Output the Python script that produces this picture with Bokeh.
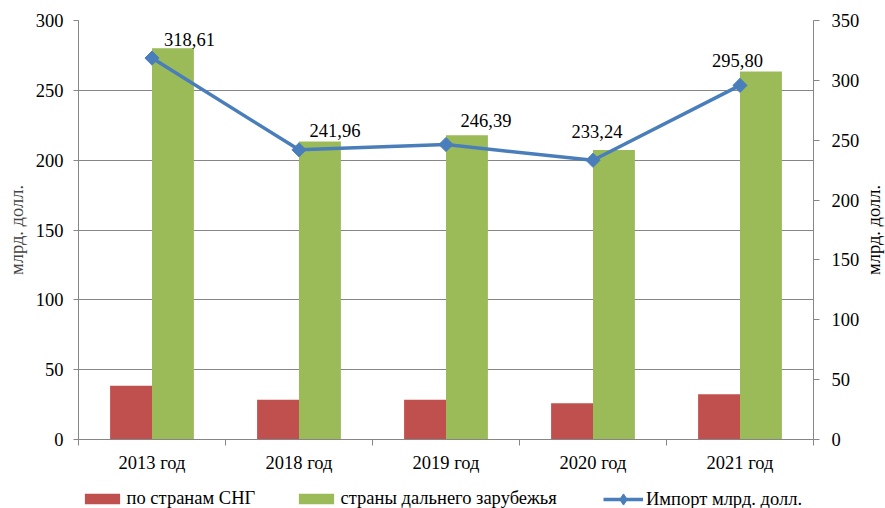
import numpy as np
from bokeh.plotting import figure
from bokeh.layouts import column, row
from bokeh.models import (ColumnDataSource, Range1d, LinearAxis, FixedTicker,
                          Legend, LegendItem, LabelSet, Label)
from bokeh.transform import dodge
from bokeh.embed import file_html
from bokeh.resources import INLINE

# ---- data ----
categories = ["2013 год", "2018 год", "2019 год", "2020 год", "2021 год"]
cis = [38.4, 28.5, 28.5, 26.0, 32.4]
far_abroad = [280.2, 213.4, 217.9, 207.2, 263.4]
import_total = [318.61, 241.96, 246.39, 233.24, 295.80]
import_labels = ["318,61", "241,96", "246,39", "233,24", "295,80"]
left_ticks = [0, 50, 100, 150, 200, 250, 300]
right_ticks = [0, 50, 100, 150, 200, 250, 300, 350]
series_names = ["по странам СНГ", "страны дальнего зарубежья", "Импорт млрд. долл."]
axis_title = "млрд. долл."

# label placement offsets (screen px)
label_dx = [37.5, 36, 40, 4, -2.5]
label_dy = [18.5, 19, 24.5, 29, 25]

FONT = "Liberation Serif"
FS = "18.5px"
GRAY = "#868686"
RED = "#C0504D"
GREEN = "#9BBB59"
BLUE = "#4A7EBB"

xpos = [i + 0.5 for i in range(len(categories))]
src = ColumnDataSource(dict(x=xpos, cis=cis, far=far_abroad, imp=import_total,
                            lab=import_labels, dx=label_dx, dy=label_dy))

p = figure(width=862, height=480, x_range=Range1d(0, len(categories)),
           y_range=Range1d(0, 300), output_backend="svg", toolbar_location=None,
           min_border_left=78, min_border_right=49, min_border_top=20,
           min_border_bottom=41)
p.extra_y_ranges = {"right": Range1d(0, 350)}
p.outline_line_color = None
p.background_fill_color = "white"
p.border_fill_color = "white"

# axes
p.xaxis.ticker = FixedTicker(ticks=xpos, minor_ticks=list(range(len(categories) + 1)))
p.xaxis.major_label_overrides = {x: c for x, c in zip(xpos, categories)}
p.xaxis.major_tick_out = 0
p.xaxis.major_tick_in = 0
p.xaxis.minor_tick_out = 6
p.xaxis.minor_tick_in = 0
p.xaxis.minor_tick_line_color = GRAY
p.xaxis.axis_line_color = GRAY
p.xaxis.major_label_standoff = 7
p.xaxis.major_label_text_font = FONT
p.xaxis.major_label_text_font_size = FS
p.xaxis.major_label_text_color = "black"

p.yaxis.ticker = FixedTicker(ticks=left_ticks)
p.yaxis.minor_tick_line_color = None
p.yaxis.major_tick_out = 5
p.yaxis.major_tick_in = 0
p.yaxis.major_tick_line_color = GRAY
p.yaxis.axis_line_color = GRAY
p.yaxis.major_label_standoff = 10
p.yaxis.major_label_text_font = FONT
p.yaxis.major_label_text_font_size = FS
p.yaxis.major_label_text_color = "black"
p.yaxis.axis_label = axis_title
p.yaxis.axis_label_text_font = FONT
p.yaxis.axis_label_text_font_size = FS
p.yaxis.axis_label_text_font_style = "normal"
p.yaxis.axis_label_standoff = 6

ra = LinearAxis(y_range_name="right", ticker=FixedTicker(ticks=right_ticks))
ra.minor_tick_line_color = None
ra.major_tick_out = 6
ra.major_tick_in = 0
ra.major_tick_line_color = GRAY
ra.axis_line_color = GRAY
ra.major_label_standoff = 12
ra.major_label_text_font = FONT
ra.major_label_text_font_size = FS
ra.major_label_text_color = "black"
p.add_layout(ra, "right")

p.xgrid.grid_line_color = None
p.ygrid.ticker = FixedTicker(ticks=left_ticks)
p.ygrid.grid_line_color = GRAY
p.ygrid.grid_line_width = 1

# bars
bw = 0.285
p.vbar(x=dodge("x", -bw / 2, range=p.x_range), top="cis", width=bw,
       source=src, fill_color=RED, line_color=None)
p.vbar(x=dodge("x", bw / 2, range=p.x_range), top="far", width=bw,
       source=src, fill_color=GREEN, line_color=None)

# line
p.line("x", "imp", source=src, y_range_name="right", line_color=BLUE,
       line_width=3.5)
p.scatter("x", "imp", source=src, y_range_name="right", marker="square",
          angle=np.pi / 4, size=10, fill_color=BLUE, line_color=BLUE)

labels = LabelSet(x="x", y="imp", text="lab", source=src, y_range_name="right",
                  x_offset="dx", y_offset="dy", text_align="center",
                  text_baseline="middle", text_font=FONT, text_font_size=FS,
                  text_color="black")
p.add_layout(labels)

# ---- right axis title strip (reads bottom-to-top like the reference) ----
pr = figure(width=23, height=480, x_range=Range1d(0, 1), y_range=Range1d(0, 1),
            output_backend="svg", toolbar_location=None, x_axis_type=None,
            y_axis_type=None, min_border_left=0, min_border_right=0,
            min_border_top=20, min_border_bottom=41)
pr.outline_line_color = None
pr.border_fill_color = "white"
pr.add_layout(Label(x=0.5, y=0.5, text=axis_title, angle=np.pi / 2,
                    text_align="center", text_baseline="middle",
                    text_font=FONT, text_font_size=FS, text_color="black"))

# ---- legend strip ----
pl = figure(width=885, height=28, x_range=Range1d(-10, -9), y_range=Range1d(0, 1),
            output_backend="svg", toolbar_location=None, x_axis_type=None,
            y_axis_type=None, min_border_left=78, min_border_right=0,
            min_border_top=0, min_border_bottom=0)
pl.outline_line_color = None
pl.border_fill_color = "white"
lr_cis = pl.vbar(x="x", top="cis", width=bw, source=src, fill_color=RED, line_color=None)
lr_far = pl.vbar(x="x", top="far", width=bw, source=src, fill_color=GREEN, line_color=None)
lr_line = pl.line("x", "imp", source=src, line_color=BLUE, line_width=3.5)
lr_pts = pl.scatter("x", "imp", source=src, marker="diamond", size=14,
                    fill_color=BLUE, line_color=BLUE)

common = dict(orientation="horizontal", padding=0, margin=0, label_standoff=3,
              label_height=18, border_line_color=None, background_fill_alpha=0,
              label_text_font=FONT, label_text_font_size=FS,
              label_text_color="black")
leg1 = Legend(items=[LegendItem(label=series_names[0], renderers=[lr_cis])],
              location=(1.6, -1), glyph_width=44, glyph_height=13, **common)
leg2 = Legend(items=[LegendItem(label=series_names[1], renderers=[lr_far])],
              location=(215.6, -1), glyph_width=44, glyph_height=13, **common)
leg3 = Legend(items=[LegendItem(label=series_names[2], renderers=[lr_line, lr_pts])],
              location=(525, -5), glyph_width=40, glyph_height=28, **common)
for lg in (leg1, leg2, leg3):
    pl.add_layout(lg)

layout = column(row(p, pr, spacing=0), pl, spacing=0)
open("out.html", "w").write(file_html(layout, INLINE))
